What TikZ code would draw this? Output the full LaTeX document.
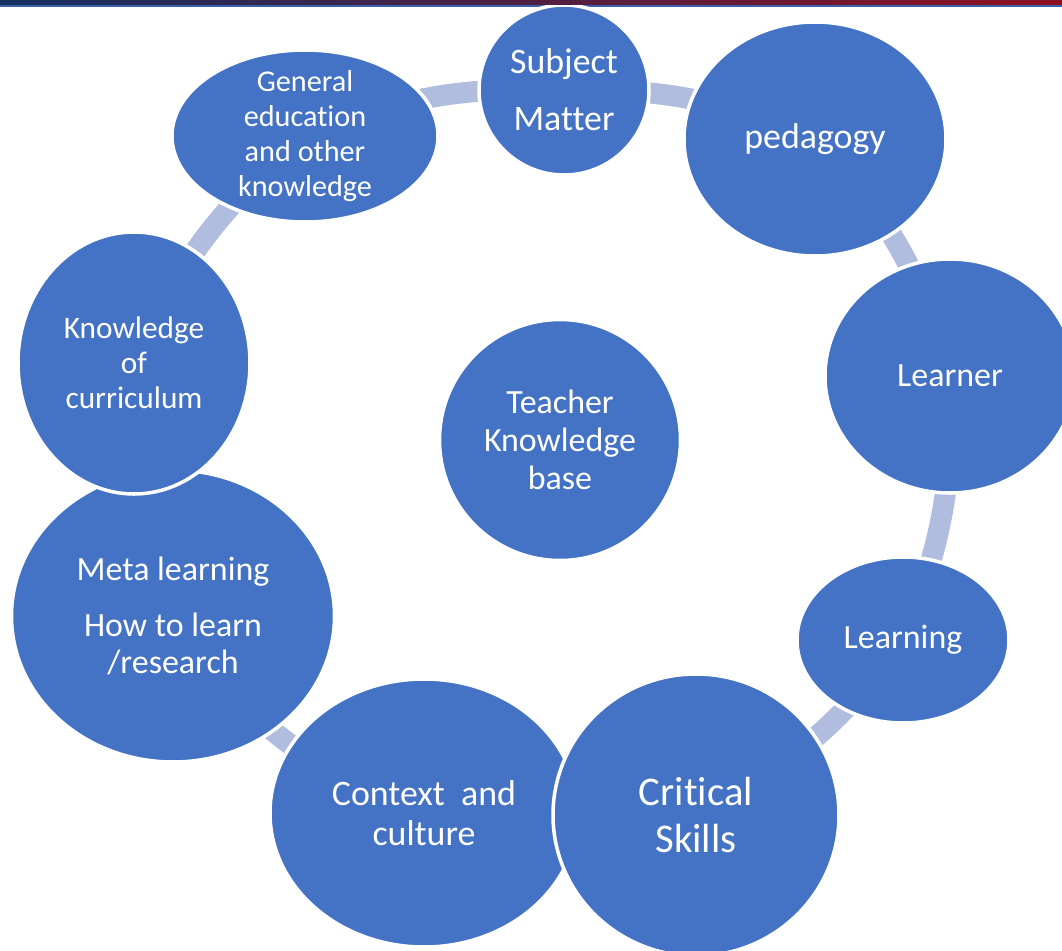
\documentclass[tikz,border=0pt]{standalone}
\usepackage{fontspec}
\setmainfont{Carlito}[Ligatures=NoCommon]
\usetikzlibrary{shapes,backgrounds}

\definecolor{bubbleblue}{HTML}{4472C4}
\definecolor{ringblue}{HTML}{B1BDDF}
\definecolor{barnavy}{HTML}{142F62}
\definecolor{barred}{HTML}{8E1022}
\definecolor{barline}{HTML}{3B62A8}

\begin{document}
\begin{tikzpicture}[
  bubble/.style={ellipse, draw=white, line width=2pt, fill=bubbleblue, inner sep=0pt},
  txt/.style={text=white, align=center, inner sep=0pt},
  link/.style={draw=ringblue, line width=0.42cm}
]
  \useasboundingbox (0,0) rectangle (21.24,-19.02);

  % Header line
  \draw[barline, line width=0.05cm] (0,-0.12) -- (21.24,-0.12);

  % Outer ring of knowledge areas
  \node[bubble, minimum width=3.40cm, minimum height=3.40cm,
    label={[txt, font=\fontsize{20.4}{32.3}\selectfont]center:Subject\\Matter}] (sm) at (11.28,-1.80) {};
  \node[bubble, minimum width=5.24cm, minimum height=4.68cm,
    label={[txt, font=\fontsize{20.4}{24}\selectfont]center:pedagogy}] (ped) at (16.30,-2.78) {};
  \node[bubble, minimum width=5.00cm, minimum height=4.68cm,
    label={[txt, font=\fontsize{19.3}{23}\selectfont]center:Learner}] (learner) at (19.00,-7.52) {};
  \node[bubble, minimum width=4.24cm, minimum height=3.32cm,
    label={[txt, font=\fontsize{19.3}{23}\selectfont]center:Learning}] (learning) at (18.06,-12.80) {};
  \node[bubble, minimum width=6.16cm, minimum height=5.36cm,
    label={[txt, font=\fontsize{20.4}{22.7}\selectfont]center:Context\ \ and\\culture}] (context) at (8.48,-16.26) {};
  \node[bubble, minimum width=5.72cm, minimum height=5.64cm,
    label={[txt, font=\fontsize{23.2}{26.6}\selectfont]center:Critical\\Skills}] (critical) at (13.92,-16.30) {};
  \node[bubble, minimum width=6.46cm, minimum height=5.84cm,
    label={[txt, font=\fontsize{19.3}{21}\selectfont]center:Meta learning\\[11.3pt]How to learn\\/research}] (meta) at (3.46,-12.32) {};
  \node[bubble, minimum width=4.64cm, minimum height=5.24cm,
    label={[txt, font=\fontsize{17.8}{19.8}\selectfont]center:Knowledge\\of\\curriculum}] (curric) at (2.68,-7.26) {};
  \node[bubble, minimum width=5.32cm, minimum height=3.44cm,
    label={[txt, font=\fontsize{17.2}{19.8}\selectfont]center:General\\education\\and other\\knowledge}] (general) at (6.10,-2.72) {};

  % Centre
  \node[bubble, minimum width=4.82cm, minimum height=4.82cm,
    label={[txt, font=\fontsize{19.3}{21.5}\selectfont]center:Teacher\\Knowledge\\base}] (teacher) at (11.20,-8.80) {};

  % Ring segments
  \begin{scope}[on background layer]
    \draw[link] (sm.center) to[bend left=12] (ped.center);
    \draw[link] (ped.center) to[bend left=14] (learner.center);
    \draw[link] (learner.center) to[bend left=12] (learning.center);
    \draw[link] (learning.center) to[bend left=13] (critical.center);
    \draw[link] (context.center) to[bend left=18] (meta.center);
    \draw[link] (curric.center) to[bend left=13] (general.center);
    \draw[link] (general.center) to[bend left=12] (sm.center);
  \end{scope}

  % Header strip
  \fill[left color=barnavy, right color=barred] (0,0) rectangle (21.24,-0.09);
\end{tikzpicture}
\end{document}
